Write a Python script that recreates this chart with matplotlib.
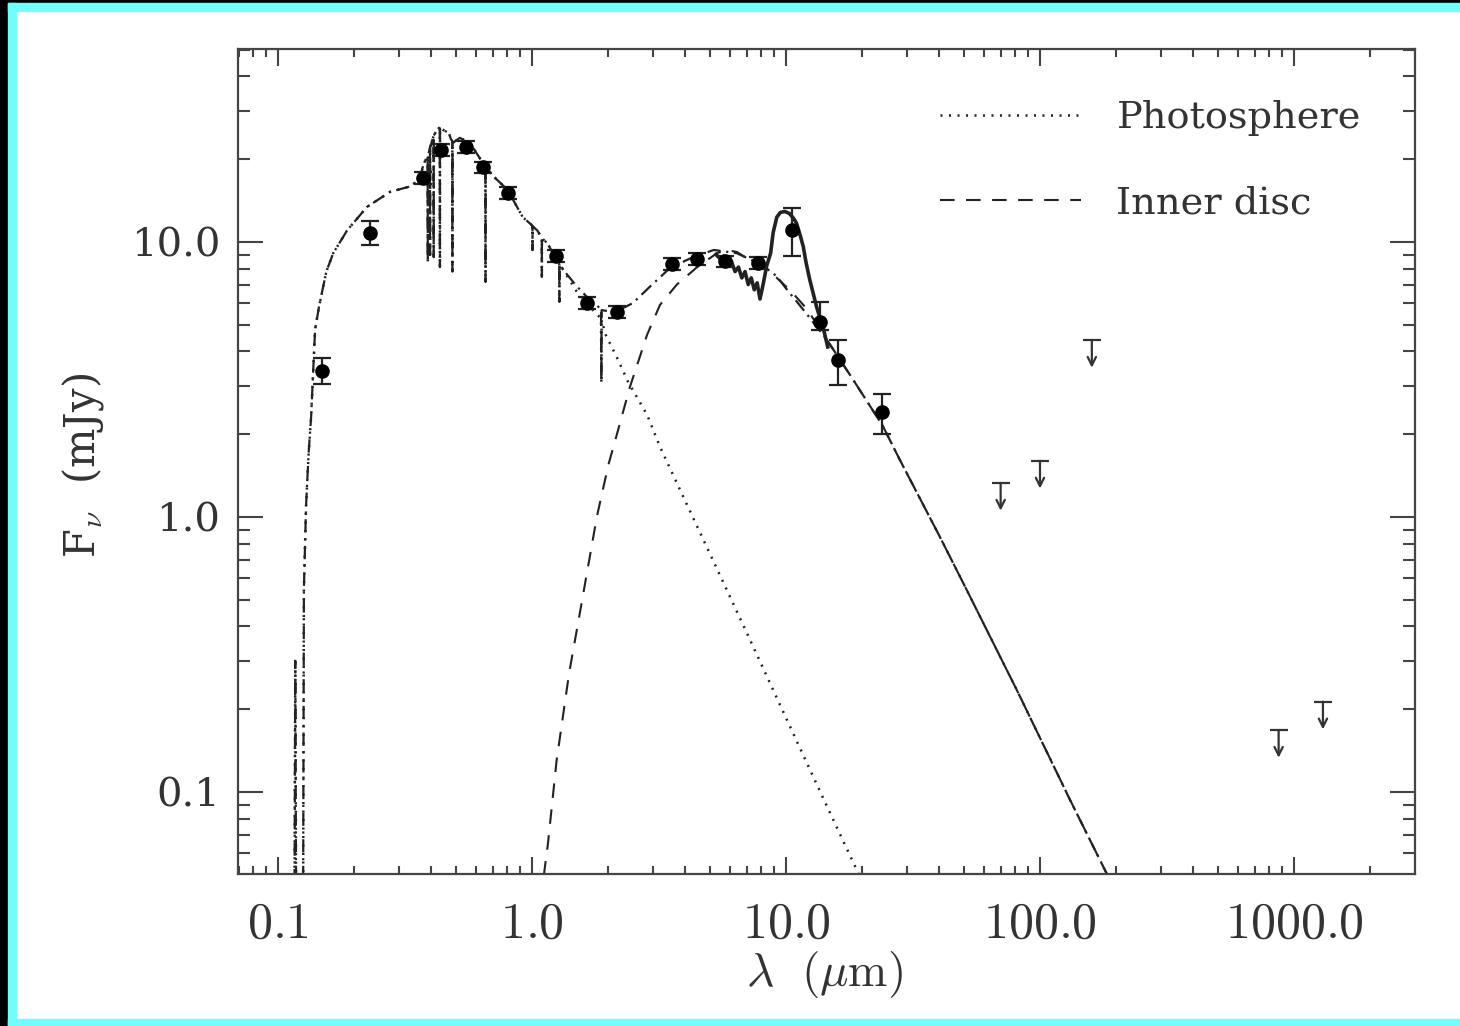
import numpy as np
import matplotlib.pyplot as plt
from matplotlib.patches import Rectangle
from matplotlib.ticker import FixedLocator, FixedFormatter, LogLocator, NullFormatter

plt.rcParams['font.family'] = ['DejaVu Serif']
plt.rcParams['mathtext.fontset'] = 'cm'

# model spectrum, part shared by photosphere and total (UV / optical, with H lines)
short_wl = [0.1160, 0.1170, 0.1180, 0.1255, 0.1265, 0.1290, 0.1320, 0.1350, 0.1380, 0.1400,
            0.1450, 0.1550, 0.1650, 0.1870, 0.2240, 0.2760, 0.3300, 0.3600, 0.3650, 0.3700,
            0.3800, 0.3860, 0.3885, 0.3889, 0.3893, 0.3920, 0.3966, 0.3970, 0.3974, 0.4000,
            0.4050, 0.4098, 0.4102, 0.4106, 0.4150, 0.4250, 0.4300, 0.4337, 0.4341, 0.4345,
            0.4400, 0.4550, 0.4700, 0.4800, 0.4857, 0.4861, 0.4865, 0.4920, 0.5000, 0.5200,
            0.5700, 0.6200, 0.6450, 0.6558, 0.6563, 0.6568, 0.6700, 0.7200, 0.8000, 0.9200,
            1.0000, 1.0046, 1.0050, 1.0054, 1.0500, 1.0900, 1.0934, 1.0938, 1.0942, 1.1500,
            1.2500, 1.2812, 1.2818, 1.2824, 1.3300]
short_flux = [0.03, 0.30, 0.03, 0.03, 0.55, 1.1, 1.7, 2.3, 3.6, 4.8,
              5.8, 7.8, 9.1, 11.0, 13.4, 15.2, 15.9, 16.8, 17.2, 18.5,
              19.8, 20.3, 20.5, 8.5, 20.6, 21.0, 22.0, 8.97, 22.2, 22.5,
              23.5, 24.2, 8.8, 24.4, 24.8, 25.6, 26.0, 25.9, 8.1, 25.9,
              25.8, 25.3, 25.0, 23.6, 23.3, 7.8, 23.2, 23.0, 23.3, 23.9,
              22.9, 20.3, 19.2, 18.8, 7.15, 18.7, 18.3, 17.0, 15.5, 12.3,
              11.5, 11.4, 9.35, 11.4, 11.0, 10.4, 10.3, 7.46, 10.3, 9.9,
              8.6, 8.3, 6.05, 8.3, 7.9]

# photosphere beyond 1.3 micron
phot_tail_wl = [1.50, 1.69, 1.84, 1.870, 1.8751, 1.880, 1.95, 2.16, 2.39, 2.84,
                3.19, 4.0, 5.0, 7.0, 10.0, 14.0, 20.0, 22.0]
phot_tail_flux = [6.6, 5.8, 5.35, 5.3, 3.1, 5.2, 4.6, 3.8, 3.1, 2.35,
                  1.8, 1.15, 0.74, 0.38, 0.186, 0.095, 0.047, 0.039]

# photosphere + inner disc beyond 1.3 micron
total_tail_wl = [1.50, 1.69, 1.85, 1.870, 1.8751, 1.880, 2.00, 2.16, 2.50, 2.90,
                 3.50, 4.30, 5.20, 6.40, 7.50, 8.40, 9.20, 10.1, 11.3, 12.4]
total_tail_flux = [6.9, 6.15, 5.75, 5.7, 3.1, 5.65, 5.6, 5.6, 6.0, 6.85,
                   8.05, 8.8, 9.35, 9.1, 8.5, 8.0, 7.5, 6.7, 5.9, 5.3]

# inner disc
disc_wl = [1.08, 1.156, 1.25, 1.40, 1.545, 1.80, 2.00, 2.16, 2.43, 2.84,
           3.19, 3.72, 4.47, 5.35, 5.80, 6.40, 7.20, 8.20, 9.20, 10.5, 12.1]
disc_flux = [0.04, 0.065, 0.13, 0.27, 0.45, 1.0, 1.55, 2.0, 2.97, 4.6,
             5.9, 7.0, 8.1, 9.1, 9.35, 9.2, 8.6, 8.0, 7.4, 6.6, 5.7]

# far-IR part where disc and total coincide
far_wl = [14.5, 18.0, 24.0, 28.0, 40.0, 51.6, 81.0, 131.0, 184.0, 200.0]
far_flux = [4.4, 3.25, 2.15, 1.62, 0.86, 0.54, 0.235, 0.094, 0.05, 0.042]

# IRS spectrum
irs_wl = [5.3, 5.5, 5.7, 5.9, 6.1, 6.3, 6.5, 6.7, 6.9, 7.1, 7.3, 7.5, 7.7, 7.9, 8.1,
          8.4, 8.7, 8.9, 9.2, 9.5, 9.9, 10.3, 10.7, 11.0, 11.4, 11.7, 12.0, 12.4, 12.8,
          13.2, 13.6, 14.0, 14.3, 14.6]
irs_flux = [9.0, 8.7, 8.9, 8.2, 8.5, 7.8, 8.1, 7.4, 7.8, 7.0, 7.4, 6.7, 7.1, 6.2, 6.9,
            8.2, 9.1, 10.8, 12.3, 12.8, 12.9, 12.7, 12.2, 11.7, 10.5, 9.6, 8.4, 7.3, 6.5,
            5.8, 5.3, 4.9, 4.5, 4.15]

# photometry
obs_wl = [0.149, 0.230, 0.372, 0.438, 0.550, 0.641, 0.804, 1.24, 1.65, 2.16,
          3.56, 4.47, 5.75, 7.75, 10.6, 13.6, 16.0, 23.9]
obs_flux = [3.40, 10.8, 17.1, 21.6, 22.1, 18.7, 15.1, 8.9, 6.0, 5.56,
            8.32, 8.67, 8.5, 8.4, 11.05, 5.1, 3.72, 2.41]
obs_lo = [3.05, 9.75, 16.2, 20.5, 21.0, 17.8, 14.3, 8.45, 5.7, 5.28,
          7.9, 8.24, 8.1, 8.0, 8.9, 4.8, 3.02, 2.0]
obs_hi = [3.79, 11.9, 18.0, 22.7, 23.2, 19.6, 15.9, 9.35, 6.3, 5.84,
          8.74, 9.1, 8.9, 8.8, 13.3, 6.05, 4.4, 2.8]

# upper limits
lim_wl = [70.0, 100.0, 160.0, 870.0, 1300.0]
lim_flux = [1.33, 1.60, 4.4, 0.168, 0.213]

xticks = [0.1, 1.0, 10.0, 100.0, 1000.0]
xticklabels = ['$0.1$', '$1.0$', '$10.0$', '$100.0$', '$1000.0$']
yticks = [0.1, 1.0, 10.0]
yticklabels = ['0.1', '1.0', '10.0']

W, H = 1460, 1026
fig = plt.figure(figsize=(W / 100, H / 100), dpi=100, facecolor='white')
cyan = '#72fdfd'
# border frame
fig.patches.append(Rectangle((0, 0), 8 / W, 1, transform=fig.transFigure, color='black', zorder=-5))
fig.patches.append(Rectangle((0, 1 - 3 / H), 1, 3 / H, transform=fig.transFigure, color='black', zorder=-5))
fig.patches.append(Rectangle((8 / W, 0), 8 / W, 1 - 3 / H, transform=fig.transFigure, color=cyan, zorder=-4))
fig.patches.append(Rectangle((8 / W, 1 - 11 / H), 1, 8 / H, transform=fig.transFigure, color=cyan, zorder=-4))
fig.patches.append(Rectangle((8 / W, 0), 1, 7 / H, transform=fig.transFigure, color=cyan, zorder=-4))

ax = fig.add_axes([238 / W, 1 - 874 / H, (1415 - 238) / W, (874 - 49) / H])
ax.set_xscale('log')
ax.set_yscale('log')
ax.set_xlim(0.0696, 2995)
ax.set_ylim(0.0503, 50.3)

lc = '#222222'
phot_wl = short_wl + phot_tail_wl
phot_flux = short_flux + phot_tail_flux
total_wl = short_wl + total_tail_wl + far_wl
total_flux = short_flux + total_tail_flux + far_flux

ax.plot(phot_wl, phot_flux, ls=(0, (0.8, 2.6)), lw=1.8, color=lc, label='Photosphere')
ax.plot(disc_wl + far_wl, disc_flux + far_flux, ls=(0, (7, 5.5)), lw=1.5, color=lc, label='Inner disc')
ax.plot(total_wl, total_flux, ls=(0, (6, 2.5, 1, 2.5)), lw=1.6, color=lc)
ax.plot(irs_wl, irs_flux, '-', lw=2.6, color=lc)

f = np.array(obs_flux)
ax.errorbar(obs_wl, obs_flux, yerr=[f - np.array(obs_lo), np.array(obs_hi) - f],
            fmt='o', ms=9.5, color='black', ecolor='#222222', elinewidth=1.6,
            capsize=6.5, capthick=1.6, zorder=5)

for lw_, lf in zip(lim_wl, lim_flux):
    ax.plot([lw_], [lf], marker='_', ms=13, mew=1.6, color='#333333')
    ax.annotate('', xy=(lw_, lf), xytext=(0, -20), textcoords='offset points',
                arrowprops=dict(arrowstyle='<-', lw=1.6, color='#333333',
                                shrinkA=0, shrinkB=0, mutation_scale=15))

ax.xaxis.set_major_locator(FixedLocator(xticks))
ax.xaxis.set_major_formatter(FixedFormatter(xticklabels))
ax.xaxis.set_minor_locator(LogLocator(base=10, subs=np.arange(2, 10)))
ax.xaxis.set_minor_formatter(NullFormatter())
ax.yaxis.set_major_locator(FixedLocator(yticks))
ax.yaxis.set_major_formatter(FixedFormatter(yticklabels))
ax.yaxis.set_minor_locator(LogLocator(base=10, subs=np.arange(2, 10)))
ax.yaxis.set_minor_formatter(NullFormatter())

tc = '#444444'
ax.tick_params(which='both', direction='in', top=True, right=True, color=tc, width=1.5)
ax.tick_params(axis='x', which='major', length=12, pad=18, labelsize=36, labelcolor='#333333')
ax.tick_params(axis='x', which='minor', length=6)
ax.tick_params(axis='y', which='major', length=18, pad=13, labelsize=29, labelcolor='#333333')
ax.tick_params(axis='y', which='minor', length=8.5)
for s in ax.spines.values():
    s.set_color(tc)
    s.set_linewidth(1.6)

ax.set_xlabel(r'$\lambda\ \ (\mu{\rm m})$', fontsize=34, color='#333333')
ax.xaxis.label.set_verticalalignment('center')
ax.xaxis.set_label_coords((825 - 238) / 1177, (874 - 975) / 825)
ax.set_ylabel(r'F$_\nu$  (mJy)', fontsize=30, color='#333333')
ax.yaxis.label.set_verticalalignment('center')
ax.yaxis.set_label_coords((83 - 238) / 1177, (874 - 465) / 825)

ax.legend(loc='upper left', frameon=False, fontsize=27.5, handlelength=3.7,
          handletextpad=0.92, labelspacing=1.3, borderpad=0, borderaxespad=0,
          bbox_to_anchor=((940 - 238) / 1177, (874 - 100) / 825), labelcolor='#333333')

fig.savefig('out.png', dpi=100, facecolor=fig.get_facecolor())
